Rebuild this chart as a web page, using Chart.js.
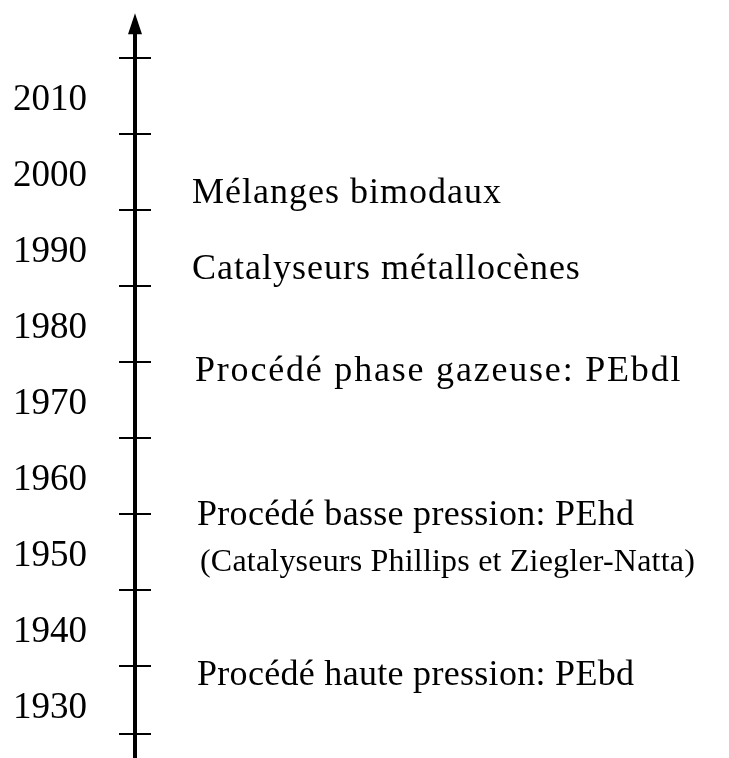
<!doctype html>
<html lang="fr">
  <head>
    <meta charset="utf-8">
    <title>Historique du polyéthylène</title>
    <style>
      * {
        margin: 0;
        padding: 0;
      }
      body {
        background: white;
      }
      #myChart {
        display: block;
      }
    </style>
  </head>
  <body>
    <canvas id="myChart" width="729" height="758"></canvas>
    <script src="https://cdn.jsdelivr.net/npm/chart.js/dist/chart.umd.min.js"></script>
    <script>
      // data
      const yearLabels = [1930, 1940, 1950, 1960, 1970, 1980, 1990, 2000, 2010];
      const tickYears = [1926, 1935, 1945, 1955, 1965, 1975, 1985, 1995, 2005, 2015];
      const eventYears = [1934, 1955, 1974, 1987.4, 1997.4];
      const eventLabels = [
        'Procédé haute pression: PEbd',
        'Procédé basse pression: PEhd',
        'Procédé phase gazeuse: PEbdl',
        'Catalyseurs métallocènes',
        'Mélanges bimodaux'
      ];
      const eventNotes = ['', '(Catalyseurs Phillips et Ziegler-Natta)', '', '', ''];
      const axisStart = 1922.9;
      const axisEnd = 2020.9;

      const serif = '"Liberation Serif", "Times New Roman", serif';

      // axe vertical, flèche, graduations et textes
      const timeline = {
        id: 'timeline',
        afterDatasetsDraw(chart, args, opts) {
          const { ctx, scales: { y } } = chart;
          const x0 = chart.chartArea.left;
          const tip = y.getPixelForValue(axisEnd);

          ctx.save();
          ctx.strokeStyle = 'black';
          ctx.fillStyle = 'black';

          // axe
          ctx.lineWidth = 4;
          ctx.beginPath();
          ctx.moveTo(x0, y.getPixelForValue(axisStart));
          ctx.lineTo(x0, tip + 18);
          ctx.stroke();

          // flèche
          ctx.beginPath();
          ctx.moveTo(x0, tip);
          ctx.lineTo(x0 - 7, tip + 21);
          ctx.lineTo(x0 + 7, tip + 21);
          ctx.closePath();
          ctx.fill();

          // graduations
          ctx.lineWidth = 2;
          tickYears.forEach(v => {
            const py = Math.round(y.getPixelForValue(v));
            ctx.beginPath();
            ctx.moveTo(x0 - 16, py);
            ctx.lineTo(x0 + 16, py);
            ctx.stroke();
          });

          // textes des événements
          const meta = chart.getDatasetMeta(0);
          ctx.textAlign = 'left';
          ctx.textBaseline = 'alphabetic';
          meta.data.forEach((pt, i) => {
            ctx.font = '36px ' + serif;
            ctx.letterSpacing = opts.spacing[i] + 'px';
            ctx.fillText(eventLabels[i], pt.x + opts.indent[i], pt.y + 11);
            if (eventNotes[i]) {
              ctx.font = '32px ' + serif;
              ctx.letterSpacing = '0.2px';
              ctx.fillText(eventNotes[i], pt.x + opts.indent[i] + 3, pt.y + 57);
            }
          });
          ctx.restore();
        }
      };

      const data = {
        datasets: [{
          label: 'Événements',
          data: eventYears.map(v => ({ x: 0, y: v })),
          pointRadius: 0,
          showLine: false
        }]
      };

      const config = {
        type: 'scatter',
        data,
        options: {
          responsive: false,
          animation: false,
          devicePixelRatio: 1,
          layout: { padding: 0 },
          plugins: {
            legend: { display: false },
            tooltip: { enabled: false },
            timeline: {
              indent: [62, 62, 60, 57, 57],
              spacing: [0.3, 0.3, 1.8, 1, 1]
            }
          },
          scales: {
            x: {
              display: false,
              min: 0,
              max: 1
            },
            y: {
              min: 1922.89,
              max: 2022.63,
              border: { display: false },
              grid: { display: false, drawTicks: false },
              afterBuildTicks(scale) {
                scale.ticks = yearLabels.map(v => ({ value: v }));
              },
              afterFit(scale) {
                scale.width = 135;
                scale.paddingTop = 0;
                scale.paddingBottom = 0;
              },
              ticks: {
                padding: 48,
                labelOffset: 4,
                color: 'black',
                font: { family: serif, size: 37 },
                callback: v => String(v)
              }
            }
          }
        },
        plugins: [timeline]
      };

      const myChart = new Chart(document.getElementById('myChart'), config);
    </script>
  </body>
</html>
